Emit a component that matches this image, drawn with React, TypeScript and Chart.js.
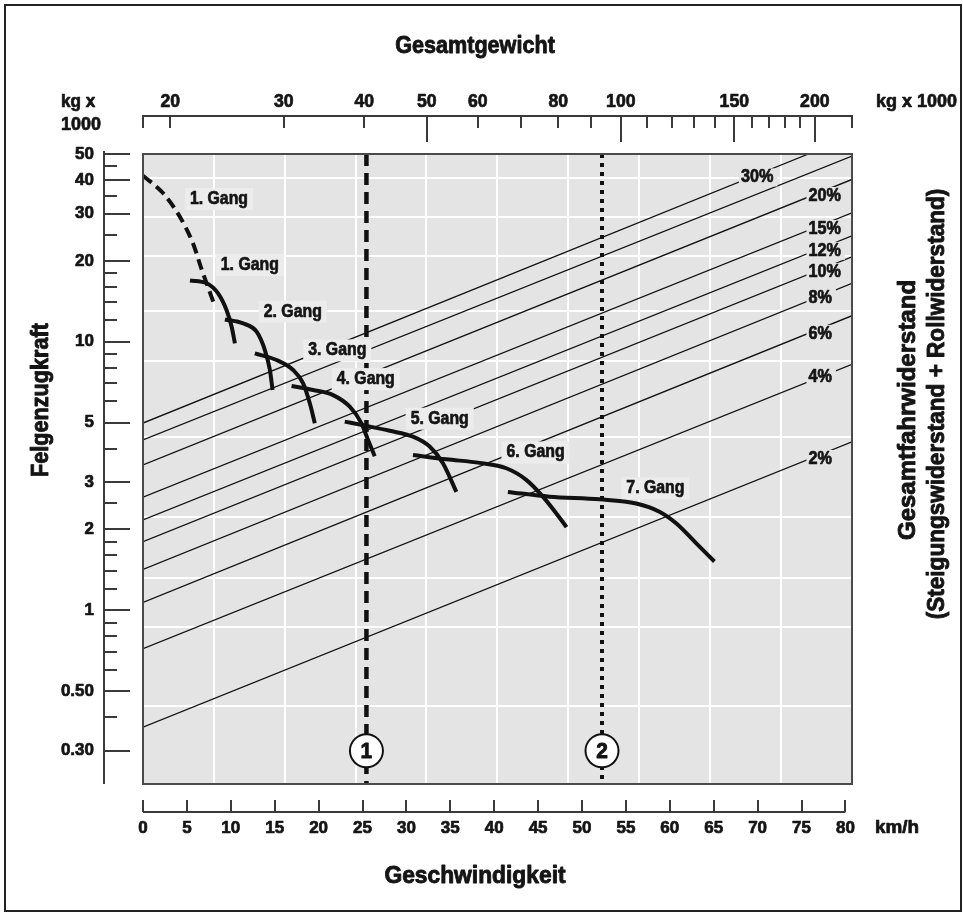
import React, { useEffect, useRef } from 'react';
import { Chart, registerables } from 'chart.js';

Chart.register(...registerables);

const CANVAS_W = 963;
const CANVAS_H = 913;
const FONT = '"Liberation Sans", Arial, "DejaVu Sans", sans-serif';
const TEXT_COLOR = '#141414';
const PLOT_BG = '#e4e4e4';
const LABEL_BG = '#ececec';
const AXIS_COLOR = '#3a3a3a';

// axis ranges
const SPEED_MIN = 0;
const SPEED_MAX = 80.75;
const FORCE_MIN = 0.2256;
const FORCE_MAX = 50;
const WEIGHT_MIN = 18.14;
const WEIGHT_MAX = 228.4;

// ticks
const SPEED_TICKS = [0, 5, 10, 15, 20, 25, 30, 35, 40, 45, 50, 55, 60, 65, 70, 75, 80];
const FORCE_MAJOR_TICKS = [50, 40, 30, 20, 10, 5, 3, 2, 1, 0.5, 0.3];
const FORCE_MAJOR_LABELS = ['50', '40', '30', '20', '10', '5', '3', '2', '1', '0.50', '0.30'];
const FORCE_MINOR_TICKS = [45, 35, 25, 18, 16, 14, 12, 9, 8, 7, 6, 4, 2.5, 1.8, 1.6, 1.4, 1.2, 0.9, 0.8, 0.7, 0.6, 0.4];
const WEIGHT_TICKS = [20, 30, 40, 50, 60, 70, 80, 90, 100, 110, 120, 130, 140, 150, 160, 170, 180, 190, 200];
const WEIGHT_LONG_TICKS = [50, 100, 150, 200];
const WEIGHT_LABELS = [20, 30, 40, 50, 60, 80, 100, 150, 200];

// white grid of the plot
const GRID_SPEED = [8.07, 16.14, 24.21, 32.28, 40.35, 48.42, 56.49, 64.56, 72.63];
const GRID_FORCE = [40.7, 29.1, 20.9, 13.0, 8.5, 4.42, 2.23, 1.32, 0.87, 0.44];

// gear curves: [speed km/h, Felgenzugkraft]
const GEAR_1_LOW = [[0, 41.5], [2.3, 35.7], [4.2, 29.2], [5.7, 23.2], [6.7, 18.5], [7.25, 16.5], [8.0, 14.1]];
const GEAR_1 = [[5.35, 16.9], [7.25, 16.5], [8.57, 15.1], [9.52, 13.1], [10.09, 11.4], [10.47, 9.86]];
const GEAR_2 = [[9.33, 12.1], [11.41, 11.7], [12.94, 10.9], [13.88, 9.31], [14.45, 7.85], [14.76, 6.61]];
const GEAR_3 = [[12.74, 9.05], [15.21, 8.55], [17.1, 7.85], [18.24, 7.0], [19.0, 5.9], [19.57, 4.97]];
const GEAR_4 = [[16.92, 6.84], [19.37, 6.61], [21.65, 6.33], [23.55, 5.73], [24.88, 4.97], [25.63, 4.31], [26.39, 3.75]];
const GEAR_5 = [[22.98, 5.04], [25.45, 4.86], [28.1, 4.66], [30.75, 4.43], [32.65, 4.07], [34.16, 3.53], [35.69, 2.76]];
const GEAR_6 = [[30.75, 3.79], [34.55, 3.65], [38.34, 3.54], [41.38, 3.38], [43.65, 3.06], [45.54, 2.65], [47.64, 2.17], [48.24, 2.04]];
const GEAR_7 = [[41.56, 2.76], [46.3, 2.65], [51.99, 2.59], [56.17, 2.5], [58.82, 2.33], [60.72, 2.11], [62.99, 1.78], [65.08, 1.52]];

const GEAR_LABELS = ['1. Gang', '1. Gang', '2. Gang', '3. Gang', '4. Gang', '5. Gang', '6. Gang', '7. Gang'];
const GEAR_LABEL_SPEED = [8.65, 12.17, 17.06, 22.13, 25.37, 33.79, 44.71, 58.36];
const GEAR_LABEL_FORCE = [34.0, 19.3, 12.95, 9.28, 7.26, 5.17, 3.87, 2.85];

// resistance lines (Steigung): start at left edge, end at right/top edge (weight axis)
const GRADE_NAMES = ['2%', '4%', '6%', '8%', '10%', '12%', '15%', '20%', '25%', '30%'];
const GRADE_SHOW_LABEL = [true, true, true, true, true, true, true, true, false, true];
const GRADE_FORCE_START = [0.367, 0.72, 1.07, 1.42, 1.8, 2.17, 2.64, 3.48, 4.31, 4.98];
const GRADE_WEIGHT_END = [228.4, 228.4, 228.4, 228.4, 228.4, 228.4, 228.4, 228.4, 228.4, 195.5];
const GRADE_FORCE_END = [4.24, 8.24, 12.5, 16.5, 20.7, 24.8, 30.2, 40.2, 49.1, 50];
const GRADE_LABEL_WEIGHT = [195.5, 195.5, 195.5, 195.5, 195.5, 195.5, 195.5, 195.5, 195.5, 153.6];
const GRADE_LABEL_FORCE = [3.66, 7.36, 10.7, 14.6, 18.2, 21.8, 26.3, 34.9, 0, 40.9];

// reference lines
const REF_LABELS = ['1', '2'];
const REF_WEIGHTS = [40.3, 93.5];
const REF_MARK_FORCE = 0.3;

function drawText(ctx: CanvasRenderingContext2D, s: string, x: number, y: number, size: number, align: CanvasTextAlign = 'center', sx = 1, rot = 0) {
  ctx.save();
  ctx.translate(x, y);
  if (rot) ctx.rotate(rot);
  ctx.scale(sx, 1);
  ctx.font = `bold ${size}px ${FONT}`;
  ctx.textAlign = align;
  ctx.textBaseline = 'middle';
  ctx.fillStyle = TEXT_COLOR;
  ctx.strokeStyle = TEXT_COLOR;
  ctx.lineWidth = size > 20 ? 0.9 : 0.7;
  ctx.lineJoin = 'round';
  ctx.strokeText(s, 0, 0);
  ctx.fillText(s, 0, 0);
  ctx.restore();
}

function textWidth(ctx: CanvasRenderingContext2D, s: string, size: number, sx: number) {
  ctx.save();
  ctx.font = `bold ${size}px ${FONT}`;
  const w = ctx.measureText(s).width * sx;
  ctx.restore();
  return w;
}

const decorPlugin = {
  id: 'decor',
  beforeDraw(chart: any) {
    const { ctx, chartArea: a } = chart;
    ctx.save();
    ctx.fillStyle = '#ffffff';
    ctx.fillRect(0, 0, CANVAS_W, CANVAS_H);
    ctx.strokeStyle = '#222';
    ctx.lineWidth = 2;
    ctx.strokeRect(5, 5, CANVAS_W - 7, CANVAS_H - 7);
    ctx.fillStyle = PLOT_BG;
    ctx.fillRect(a.left, a.top, a.right - a.left, a.bottom - a.top);
    ctx.restore();
  },
  afterDatasetsDraw(chart: any) {
    const { ctx } = chart;
    const sx = chart.scales.x;
    const sy = chart.scales.y;
    const st = chart.scales.xTop;
    // grade labels (gap in the lines)
    GRADE_NAMES.forEach((g, i) => {
      if (!GRADE_SHOW_LABEL[i]) return;
      const x = st.getPixelForValue(GRADE_LABEL_WEIGHT[i]);
      const y = sy.getPixelForValue(GRADE_LABEL_FORCE[i]);
      const size = 18;
      const k = 0.9;
      const w = textWidth(ctx, g, size, k);
      ctx.save();
      ctx.fillStyle = PLOT_BG;
      ctx.fillRect(x - 2, y - 9, w + 6, 18);
      ctx.restore();
      drawText(ctx, g, x, y, size, 'left', k);
    });
    // gear labels
    GEAR_LABELS.forEach((g, i) => {
      const x = sx.getPixelForValue(GEAR_LABEL_SPEED[i]);
      const y = sy.getPixelForValue(GEAR_LABEL_FORCE[i]);
      const size = 18;
      const k = 0.88;
      const w = textWidth(ctx, g, size, k);
      ctx.save();
      ctx.fillStyle = LABEL_BG;
      ctx.fillRect(x - w / 2 - 5, y - 11, w + 10, 22);
      ctx.restore();
      drawText(ctx, g, x, y, size, 'center', k);
    });
    // circle numbers
    REF_LABELS.forEach((l, i) => {
      const x = st.getPixelForValue(REF_WEIGHTS[i]);
      const y = sy.getPixelForValue(REF_MARK_FORCE);
      drawText(ctx, l, x, y + 1, 22, 'center', 0.95);
    });
  },
  afterDraw(chart: any) {
    const { ctx, chartArea: a } = chart;
    const sx = chart.scales.x;
    const sy = chart.scales.y;
    const st = chart.scales.xTop;
    ctx.save();
    // plot border
    ctx.strokeStyle = '#4a4a4a';
    ctx.lineWidth = 2;
    ctx.strokeRect(a.left, a.top, a.right - a.left, a.bottom - a.top);

    ctx.strokeStyle = AXIS_COLOR;
    ctx.lineWidth = 2;
    // left axis
    const axX = 104;
    ctx.beginPath();
    ctx.moveTo(axX, a.top - 3);
    ctx.lineTo(axX, a.bottom);
    FORCE_MAJOR_TICKS.forEach((v) => {
      const y = Math.round(sy.getPixelForValue(v));
      ctx.moveTo(axX, y);
      ctx.lineTo(axX + 26, y);
    });
    FORCE_MINOR_TICKS.forEach((v) => {
      const y = Math.round(sy.getPixelForValue(v));
      ctx.moveTo(axX, y);
      ctx.lineTo(axX + 13, y);
    });
    ctx.stroke();
    // top axis
    const axY = 116;
    ctx.beginPath();
    ctx.moveTo(st.getPixelForValue(WEIGHT_MIN) - 1, axY);
    ctx.lineTo(st.getPixelForValue(WEIGHT_MAX) + 1, axY);
    [WEIGHT_MIN, WEIGHT_MAX].forEach((v) => {
      const x = Math.round(st.getPixelForValue(v));
      ctx.moveTo(x, axY);
      ctx.lineTo(x, axY + 12);
    });
    WEIGHT_TICKS.forEach((v) => {
      const x = Math.round(st.getPixelForValue(v));
      ctx.moveTo(x, axY);
      ctx.lineTo(x, axY + (WEIGHT_LONG_TICKS.includes(v) ? 26 : 12));
    });
    ctx.stroke();
    // bottom axis
    const bY = 812;
    ctx.beginPath();
    ctx.moveTo(sx.getPixelForValue(SPEED_TICKS[0]), bY);
    ctx.lineTo(sx.getPixelForValue(SPEED_TICKS[SPEED_TICKS.length - 1]), bY);
    SPEED_TICKS.forEach((v) => {
      const x = Math.round(sx.getPixelForValue(v));
      ctx.moveTo(x, bY);
      ctx.lineTo(x, bY - 12);
    });
    ctx.stroke();
    ctx.restore();

    // tick labels
    FORCE_MAJOR_TICKS.forEach((v, i) => drawText(ctx, FORCE_MAJOR_LABELS[i], 94, sy.getPixelForValue(v), 17, 'right', 1));
    WEIGHT_LABELS.forEach((v) => drawText(ctx, String(v), st.getPixelForValue(v), 102, 18, 'center', 0.98));
    SPEED_TICKS.forEach((v) => drawText(ctx, String(v), sx.getPixelForValue(v), 828, 17, 'center', 1));

    // unit texts
    drawText(ctx, 'kg x', 61, 102, 18, 'left', 0.95);
    drawText(ctx, '1000', 61, 125, 18, 'left', 1);
    drawText(ctx, 'kg x 1000', 876, 102, 18, 'left', 1.0);
    drawText(ctx, 'km/h', 875, 828, 18, 'left', 1.05);

    // titles
    drawText(ctx, 'Gesamtgewicht', 475, 46, 24, 'center', 0.9);
    drawText(ctx, 'Geschwindigkeit', 475, 876, 24, 'center', 0.95);
    drawText(ctx, 'Felgenzugkraft', 42, 400, 23, 'center', 0.94, -Math.PI / 2);
    drawText(ctx, 'Gesamtfahrwiderstand', 908, 410, 24, 'center', 1.0, -Math.PI / 2);
    drawText(ctx, '(Steigungswiderstand + Rollwiderstand)', 937, 404, 24, 'center', 0.94, -Math.PI / 2);
  },
};

function toPoints(arr: number[][]) {
  return arr.map(([x, y]) => ({ x, y }));
}

export default function App() {
  const ref = useRef<HTMLCanvasElement>(null);
  useEffect(() => {
    if (!ref.current) return;
    const datasets: any[] = [];
    GRADE_NAMES.forEach((g, i) => {
      datasets.push({
        label: g,
        data: [
          { x: WEIGHT_MIN, y: GRADE_FORCE_START[i] },
          { x: GRADE_WEIGHT_END[i], y: GRADE_FORCE_END[i] },
        ],
        xAxisID: 'xTop',
        yAxisID: 'y',
        borderColor: '#111',
        borderWidth: 1.3,
        pointRadius: 0,
        tension: 0,
        order: 5,
      });
    });
    REF_WEIGHTS.forEach((w, i) => {
      datasets.push({
        label: 'Linie ' + REF_LABELS[i],
        data: [
          { x: w, y: FORCE_MAX },
          { x: w, y: FORCE_MIN },
        ],
        xAxisID: 'xTop',
        yAxisID: 'y',
        borderColor: '#111',
        borderWidth: i === 0 ? 4.5 : 4,
        borderDash: i === 0 ? [12, 7] : [4, 5],
        borderCapStyle: 'butt',
        pointRadius: 0,
        order: 4,
      });
    });
    const gears = [GEAR_1_LOW, GEAR_1, GEAR_2, GEAR_3, GEAR_4, GEAR_5, GEAR_6, GEAR_7];
    gears.forEach((g, i) => {
      datasets.push({
        label: GEAR_LABELS[i],
        data: toPoints(g),
        xAxisID: 'x',
        yAxisID: 'y',
        borderColor: '#111',
        borderWidth: 4,
        borderDash: i === 0 ? [11, 6] : [],
        cubicInterpolationMode: 'monotone',
        tension: 0.4,
        pointRadius: 0,
        order: 2,
      });
    });
    datasets.push({
      label: 'Markierung',
      data: REF_WEIGHTS.map((w) => ({ x: w, y: REF_MARK_FORCE })),
      xAxisID: 'xTop',
      yAxisID: 'y',
      showLine: false,
      pointRadius: 16.5,
      pointBackgroundColor: '#ffffff',
      pointBorderColor: '#111',
      pointBorderWidth: 2,
      order: 1,
    });

    const chart = new Chart(ref.current, {
      type: 'line',
      data: { datasets },
      options: {
        responsive: false,
        maintainAspectRatio: false,
        animation: false,
        devicePixelRatio: 1,
        events: [],
        layout: { padding: { left: 143, top: 154, right: 111, bottom: 129 } },
        plugins: { legend: { display: false }, tooltip: { enabled: false }, title: { display: false } },
        scales: {
          x: {
            type: 'linear',
            position: 'bottom',
            min: SPEED_MIN,
            max: SPEED_MAX,
            ticks: { display: false },
            border: { display: false },
            grid: { color: '#ffffff', lineWidth: 2, drawTicks: false },
            afterBuildTicks: (s: any) => {
              s.ticks = GRID_SPEED.map((v) => ({ value: v }));
            },
          },
          xTop: {
            type: 'logarithmic',
            position: 'top',
            min: WEIGHT_MIN,
            max: WEIGHT_MAX,
            display: false,
          },
          y: {
            type: 'logarithmic',
            position: 'left',
            min: FORCE_MIN,
            max: FORCE_MAX,
            ticks: { display: false },
            border: { display: false },
            grid: { color: '#ffffff', lineWidth: 2, drawTicks: false },
            afterBuildTicks: (s: any) => {
              s.ticks = GRID_FORCE.map((v) => ({ value: v }));
            },
          },
        },
      } as any,
      plugins: [decorPlugin],
    });
    return () => chart.destroy();
  }, []);

  return (
    <div style={{ position: 'absolute', left: 0, top: 0, width: CANVAS_W, height: CANVAS_H, background: '#fff' }}>
      <canvas ref={ref} width={CANVAS_W} height={CANVAS_H} style={{ display: 'block', width: CANVAS_W, height: CANVAS_H }} />
    </div>
  );
}
